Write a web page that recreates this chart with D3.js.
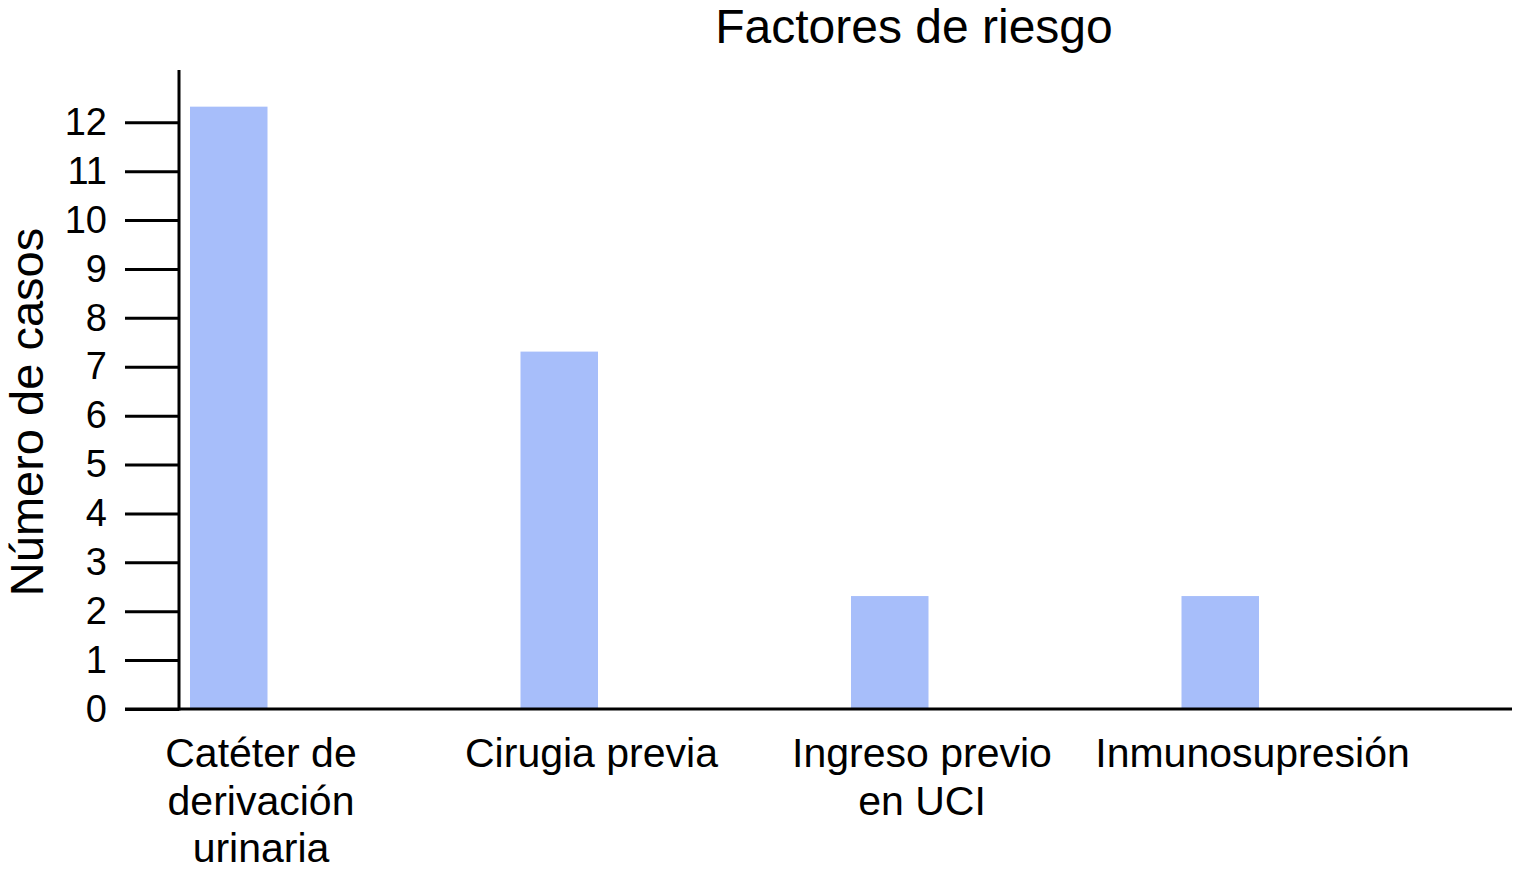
<!DOCTYPE html>
<html>
<head>
<meta charset="utf-8">
<script src="https://cdn.jsdelivr.net/npm/d3@7"></script>
<style>
  html, body { margin: 0; padding: 0; background: #fff; }
  svg { display: block; font-family: "Liberation Sans", Arial, Helvetica, sans-serif; }
</style>
</head>
<body>
<svg id="chart" width="1514" height="875"></svg>
<script>
const title = "Factores de riesgo";
const yTitle = "Número de casos";
const categories = ["Catéter de derivación urinaria", "Cirugia previa", "Ingreso previo en UCI", "Inmunosupresión"];
const categoryLines = [["Catéter de", "derivación", "urinaria"], ["Cirugia previa"], ["Ingreso previo", "en UCI"], ["Inmunosupresión"]];
const values = [12.32, 7.31, 2.31, 2.31];
const yTicks = [0, 1, 2, 3, 4, 5, 6, 7, 8, 9, 10, 11, 12];

const svg = d3.select("#chart");
const axisX = 179, baseY = 709;

const x = d3.scaleBand().domain(categories).range([axisX, axisX + 4 * 330.5]).padding(0);
const y = d3.scaleLinear().domain([0, 12]).range([baseY, 122.3]);

// bars
svg.append("g").selectAll("rect").data(categories).join("rect")
  .attr("x", d => x(d) + 11)
  .attr("width", 77.5)
  .attr("y", (d, i) => y(values[i]))
  .attr("height", (d, i) => y(0) - y(values[i]))
  .attr("fill", "#a7befa");

// y axis ticks + labels
const yAxis = d3.axisLeft(y).tickValues(yTicks).tickSize(54).tickPadding(18).tickFormat(d3.format("d"));
const gy = svg.append("g").attr("transform", `translate(${axisX},0)`).call(yAxis);
gy.select(".domain").remove();
gy.selectAll(".tick line").attr("stroke", "#000").attr("stroke-width", 3);
gy.selectAll(".tick text").attr("font-size", 38).attr("fill", "#000")
  .attr("font-family", "'Liberation Sans', Arial, sans-serif");

// y axis line
svg.append("line").attr("x1", axisX).attr("x2", axisX).attr("y1", 70).attr("y2", baseY + 1.5)
  .attr("stroke", "#000").attr("stroke-width", 3);
// x axis line
svg.append("line").attr("x1", 125).attr("x2", 1512).attr("y1", baseY).attr("y2", baseY)
  .attr("stroke", "#000").attr("stroke-width", 3);

// category labels
const lbl = svg.append("g").selectAll("text").data(categories).join("text")
  .attr("x", d => x(d) + 82)
  .attr("y", 767)
  .attr("text-anchor", "middle")
  .attr("font-size", 41)
  .attr("fill", "#000");
lbl.each(function(d, i) {
  const t = d3.select(this);
  categoryLines[i].forEach((line, j) => {
    t.append("tspan").attr("x", x(d) + 82).attr("y", 767 + j * 47.5).text(line);
  });
});

// title
svg.append("text").attr("x", 914).attr("y", 43).attr("text-anchor", "middle")
  .attr("font-size", 48).attr("fill", "#000").text(title);

// y title
svg.append("text").attr("transform", "translate(43,412) rotate(-90)")
  .attr("text-anchor", "middle").attr("font-size", 47).attr("fill", "#000").text(yTitle);
</script>
</body>
</html>
